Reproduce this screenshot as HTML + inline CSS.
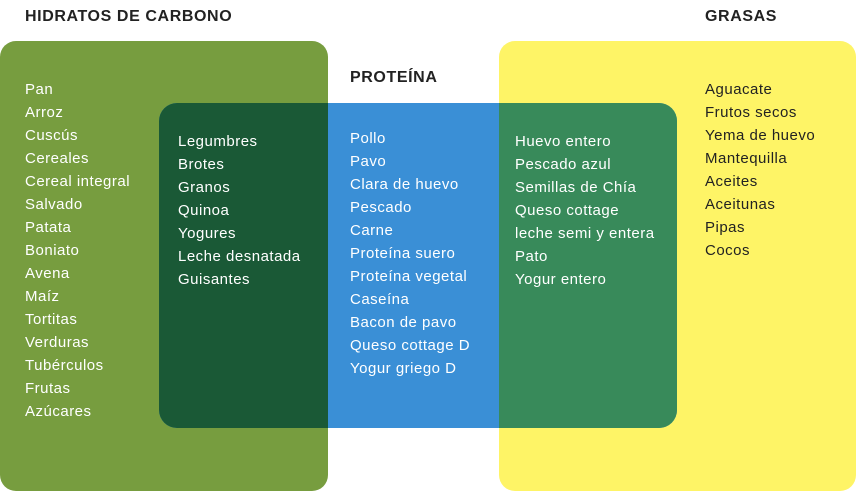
<!DOCTYPE html>
<html><head><style>
body{margin:0;width:856px;height:491px;position:relative;background:#fff;font-family:"Liberation Sans",sans-serif;overflow:hidden}
.b{position:absolute}
.t{position:absolute;font-size:15px;line-height:23px;letter-spacing:0.5px;color:#fff;white-space:nowrap}
.h{position:absolute;font-size:16px;font-weight:bold;color:#222;letter-spacing:0.6px;white-space:nowrap}
</style></head><body>
<div class="b" style="left:0;top:41px;width:328px;height:450px;background:#779d3f;border-radius:16px"></div>
<div class="b" style="left:499px;top:41px;width:357px;height:450px;background:#fef466;border-radius:16px"></div>
<div class="b" style="left:159px;top:103px;width:518px;height:325px;background:#3a8fd6;border-radius:18px;overflow:hidden">
  <div class="b" style="left:0;top:0;width:169px;height:325px;background:#1a5936"></div>
  <div class="b" style="left:340px;top:0;width:178px;height:325px;background:#388a5a"></div>
</div>
<div class="h" style="left:25px;top:8px">HIDRATOS DE CARBONO</div>
<div class="h" style="left:705px;top:8px">GRASAS</div>
<div class="h" style="left:350px;top:69px">PROTEÍNA</div>
<div class="t" style="left:25px;top:78px">Pan<br>Arroz<br>Cuscús<br>Cereales<br>Cereal integral<br>Salvado<br>Patata<br>Boniato<br>Avena<br>Maíz<br>Tortitas<br>Verduras<br>Tubérculos<br>Frutas<br>Azúcares</div>
<div class="t" style="left:178px;top:130px">Legumbres<br>Brotes<br>Granos<br>Quinoa<br>Yogures<br>Leche desnatada<br>Guisantes</div>
<div class="t" style="left:350px;top:127px">Pollo<br>Pavo<br>Clara de huevo<br>Pescado<br>Carne<br>Proteína suero<br>Proteína vegetal<br>Caseína<br>Bacon de pavo<br>Queso cottage D<br>Yogur griego D</div>
<div class="t" style="left:515px;top:130px">Huevo entero<br>Pescado azul<br>Semillas de Chía<br>Queso cottage<br>leche semi y entera<br>Pato<br>Yogur entero</div>
<div class="t" style="left:705px;top:78px;color:#222">Aguacate<br>Frutos secos<br>Yema de huevo<br>Mantequilla<br>Aceites<br>Aceitunas<br>Pipas<br>Cocos</div>
</body></html>
